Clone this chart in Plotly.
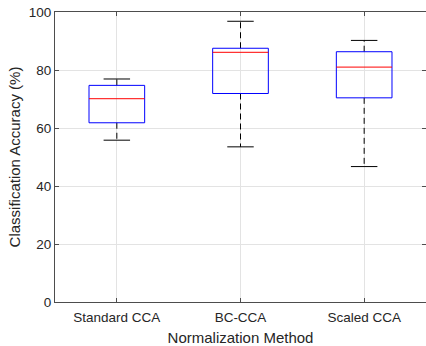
import plotly.graph_objects as go

# Summary statistics of classification accuracy (%) per normalization method
methods = ["Standard CCA", "BC-CCA", "Scaled CCA"]
whisker_low = [55.8, 53.5, 46.7]
q1 = [61.8, 71.9, 70.4]
median = [70.1, 86.1, 81.0]
q3 = [74.7, 87.5, 86.3]
whisker_high = [76.9, 96.8, 90.2]

y_ticks = [0, 20, 40, 60, 80, 100]

pos = [1, 2, 3]
box_half = 0.225
cap_half = 0.107

box_x, box_y = [], []
med_x, med_y = [], []
wh_x, wh_y = [], []
cap_x, cap_y = [], []
for i, c in enumerate(pos):
    box_x += [c - box_half, c + box_half, c + box_half, c - box_half, c - box_half, None]
    box_y += [q1[i], q1[i], q3[i], q3[i], q1[i], None]
    med_x += [c - box_half, c + box_half, None]
    med_y += [median[i], median[i], None]
    wh_x += [c, c, None, c, c, None]
    wh_y += [q3[i], whisker_high[i], None, q1[i], whisker_low[i], None]
    cap_x += [c - cap_half, c + cap_half, None, c - cap_half, c + cap_half, None]
    cap_y += [whisker_high[i], whisker_high[i], None, whisker_low[i], whisker_low[i], None]

fig = go.Figure()
fig.add_trace(go.Scatter(x=wh_x, y=wh_y, mode="lines",
                         line=dict(color="#000000", width=1, dash="6px,4px"),
                         hoverinfo="skip", showlegend=False))
fig.add_trace(go.Scatter(x=cap_x, y=cap_y, mode="lines",
                         line=dict(color="#000000", width=1),
                         hoverinfo="skip", showlegend=False))
fig.add_trace(go.Scatter(x=box_x, y=box_y, mode="lines",
                         line=dict(color="#0000ff", width=1),
                         hoverinfo="skip", showlegend=False))
fig.add_trace(go.Scatter(x=med_x, y=med_y, mode="lines",
                         line=dict(color="#ff0000", width=1),
                         hoverinfo="skip", showlegend=False))

font_family = "Liberation Sans, Arial, sans-serif"
axis_common = dict(
    showline=True, linecolor="#4d4d4d", linewidth=1, mirror="ticks",
    ticks="inside", ticklen=4, tickcolor="#4d4d4d",
    showgrid=True, gridcolor="#e3e3e3", gridwidth=1, zeroline=False,
    automargin=False,
    tickfont=dict(family=font_family, size=13.5, color="#262626"),
)

fig.update_layout(
    width=426, height=346,
    margin=dict(l=55, r=0, t=12, b=44),
    paper_bgcolor="white", plot_bgcolor="white",
    xaxis=dict(range=[0.5, 3.5], tickvals=pos, ticktext=methods,
               ticklabelstandoff=3,
               title=dict(text="Normalization Method", standoff=12,
                          font=dict(family=font_family, size=15, color="#262626")),
               **axis_common),
    yaxis=dict(range=[0, 100], tickvals=y_ticks,
               title=dict(text="Classification Accuracy (%)", standoff=4,
                          font=dict(family=font_family, size=15, color="#262626")),
               **axis_common),
)

fig.write_html("out.html")
